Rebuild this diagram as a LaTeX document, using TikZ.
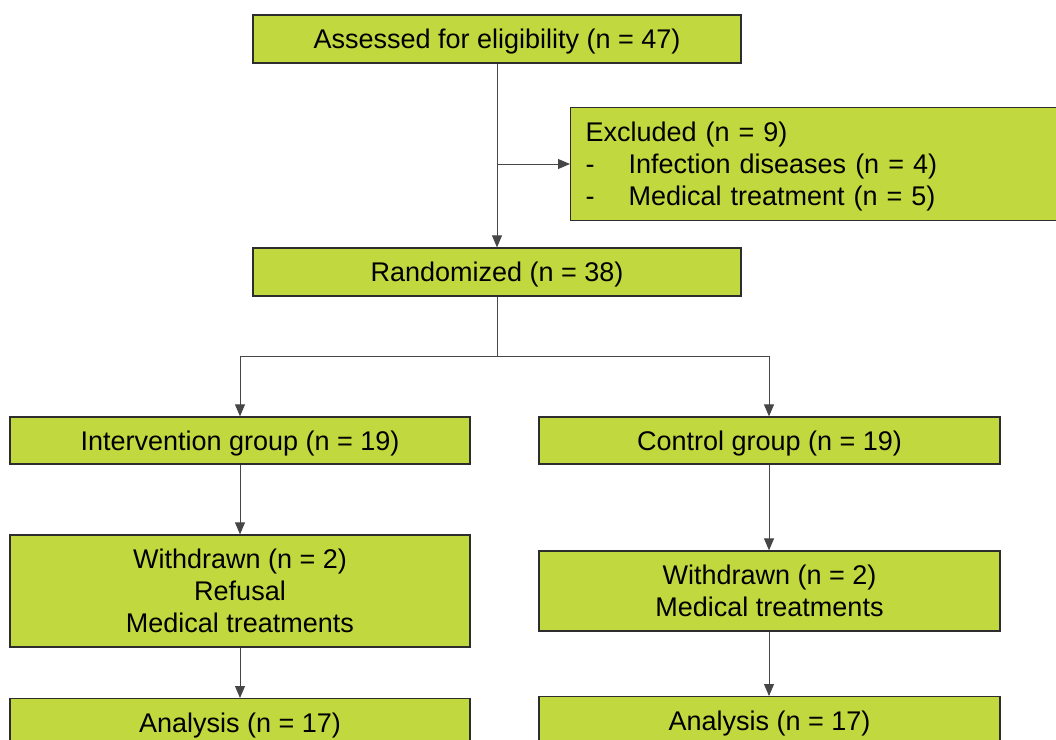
\documentclass[tikz,border=0pt]{standalone}
\usepackage{fontspec}
\setmainfont{Liberation Sans}
\usepackage{xcolor}
\usetikzlibrary{arrows.meta, positioning}
\definecolor{limegreen}{RGB}{193,217,62}
\definecolor{boxline}{RGB}{45,45,45}
\definecolor{arrowgray}{RGB}{70,70,70}

\begin{document}
\begin{tikzpicture}[x=1pt, y=-1pt,
    box/.style={draw=boxline, line width=1.3pt, fill=limegreen, inner sep=0pt,
        font={\fontsize{27}{32}\selectfont}, align=center,
        execute at begin node={\rule{0pt}{25pt}}},
    flow/.style={draw=arrowgray, line width=0.9pt, -{Triangle[length=12pt, width=10pt]}},
    plain/.style={draw=arrowgray, line width=0.9pt}]
    \useasboundingbox (0,0) rectangle (1056,739);
    \clip (0,0) rectangle (1056,739);

    % Enrolment
    \node[box, minimum width=488pt, minimum height=48pt] (assess) at (497,39) {Assessed for eligibility (n = 47)};
    \node[box, anchor=west, text width=470pt, inner xsep=15pt, minimum height=113pt, align=left] (excl) at (570,164)
        {Excluded (n = 9)\\\makebox[43pt][l]{-}Infection diseases (n = 4)\\\makebox[43pt][l]{-}Medical treatment (n = 5)};
    \node[box, minimum width=488pt, minimum height=48pt] (rand) at (497,272) {Randomized (n = 38)};

    % Allocation
    \node[box, minimum width=460pt, minimum height=47pt] (interv) at (240,440.5) {Intervention group (n = 19)};
    \node[box, minimum width=461pt, minimum height=47pt] (ctrl) at (769.5,440.5) {Control group (n = 19)};

    % Follow-up
    \node[box, minimum width=460pt, minimum height=112pt] (wdleft) at (240,591) {Withdrawn (n = 2)\\Refusal\\Medical treatments};
    \node[box, minimum width=461pt, minimum height=80pt] (wdright) at (769.5,591) {Withdrawn (n = 2)\\Medical treatments};

    % Analysis
    \node[box, anchor=north, minimum width=460pt, minimum height=48pt] (analleft) at (240,698) {Analysis (n = 17)};
    \node[box, anchor=north, minimum width=461pt, minimum height=48pt] (analright) at (769.5,696) {Analysis (n = 17)};

    % Connectors
    \coordinate (exsplit) at (497,164);
    \coordinate (split) at (497,356);
    \draw[flow] (assess) -- (rand);
    \draw[flow] (exsplit) -- (excl);
    \draw[plain] (rand) -- (split);
    \draw[flow] (split) -| (interv);
    \draw[flow] (split) -| (ctrl.north -| 769,0);
    \draw[flow] (interv) -- (wdleft);
    \draw[flow] (ctrl.south -| 769,0) -- (wdright.north -| 769,0);
    \draw[flow] (wdleft) -- (analleft);
    \draw[flow] (wdright.south -| 769,0) -- (analright.north -| 769,0);
\end{tikzpicture}
\end{document}
